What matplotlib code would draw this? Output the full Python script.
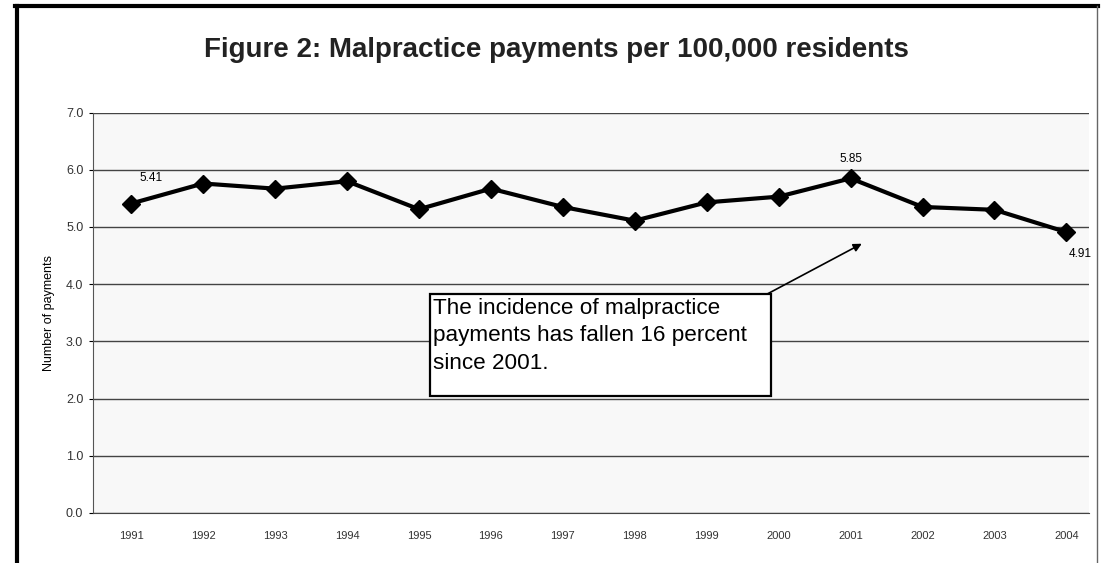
import matplotlib.pyplot as plt
from matplotlib.lines import Line2D
from matplotlib.patches import Rectangle

years = [1991, 1992, 1993, 1994, 1995, 1996, 1997, 1998, 1999, 2000, 2001, 2002, 2003, 2004]
payments = [5.41, 5.76, 5.67, 5.80, 5.31, 5.67, 5.35, 5.11, 5.43, 5.53, 5.85, 5.35, 5.30, 4.91]
yticks = [0.0, 1.0, 2.0, 3.0, 4.0, 5.0, 6.0, 7.0]

plt.rcParams['font.family'] = ['Liberation Sans', 'DejaVu Sans']

fig = plt.figure(figsize=(11.01, 5.63), dpi=100)
ax = fig.add_axes([0.0845, 0.089, 0.905, 0.711])

ax.plot(years, payments, color='black', lw=3, marker='D', ms=9, zorder=3)
ax.set_xlim(1990.47, 2004.32)
ax.set_ylim(0, 7)
ax.set_xticks(years)
ax.set_xticklabels([str(y) for y in years], fontsize=8, color='#333333')
ax.set_yticks(yticks)
ax.set_yticklabels(['%.1f' % v for v in yticks], fontsize=9, color='#333333')
ax.tick_params(axis='x', length=0, pad=13)
ax.tick_params(axis='y', length=3, pad=4)
ax.yaxis.grid(True, color='#444444', lw=1)
ax.set_axisbelow(True)
for s in ['top', 'right']:
    ax.spines[s].set_visible(False)
ax.spines['left'].set_color('#555555')
ax.spines['bottom'].set_color('#444444')
ax.set_facecolor('#f8f8f8')
ax.set_ylabel('Number of payments', fontsize=9, labelpad=8)

# point labels
ax.annotate('5.41', (years[0], payments[0]), xytext=(14, 16), textcoords='offset points',
            ha='center', fontsize=8.5)
ax.annotate('5.85', (years[10], payments[10]), xytext=(0, 12), textcoords='offset points',
            ha='center', fontsize=8.5)
ax.annotate('4.91', (years[13], payments[13]), xytext=(10, -18), textcoords='offset points',
            ha='center', fontsize=8.5)

# callout
ax.annotate('', xy=(2001.19, 4.73), xytext=(1999.77, 3.78),
            arrowprops=dict(arrowstyle='-|>', color='black', lw=1.2, mutation_scale=12))
ax.add_patch(Rectangle((1995.15, 2.05), 4.75, 1.77, fc='white', ec='black', lw=1.6, zorder=4))
ax.text(1995.2, 3.76, 'The incidence of malpractice\npayments has fallen 16 percent\nsince 2001.',
        fontsize=16.2, va='top', ha='left', linespacing=1.4, zorder=5)

fig.suptitle('Figure 2: Malpractice payments per 100,000 residents', x=0.505, y=0.935,
             fontsize=20, fontweight='bold', color='#222222')

# outer frame
fig.add_artist(Line2D([0.015, 0.015], [0, 0.99], color='black', lw=3, transform=fig.transFigure))
fig.add_artist(Line2D([0.014, 0.997], [0.99, 0.99], color='black', lw=3, transform=fig.transFigure))
fig.add_artist(Line2D([0.996, 0.996], [0, 0.99], color='#666666', lw=1, transform=fig.transFigure))

fig.savefig('out.png', dpi=100)
